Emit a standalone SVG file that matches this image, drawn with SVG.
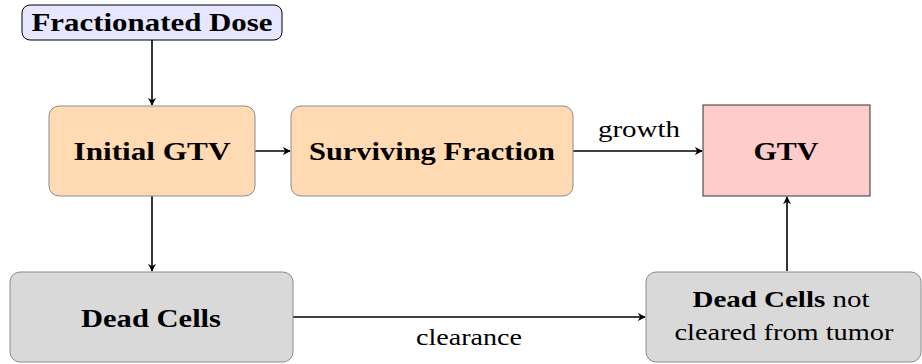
<svg xmlns="http://www.w3.org/2000/svg" width="922" height="364" viewBox="0 0 922 364">
<style>
.b{font-family:"Liberation Serif","DejaVu Serif",serif;font-weight:bold;font-size:25px;fill:#000;text-anchor:middle}
.n{font-family:"Liberation Serif","DejaVu Serif",serif;font-size:24px;fill:#000;text-anchor:middle}
.peach{fill:#ffdab3;stroke:#8c8c8c;stroke-width:1}
.gray{fill:#d9d9d9;stroke:#8c8c8c;stroke-width:1}
.c{stroke:#000;stroke-width:1.6;fill:none;marker-end:url(#ah)}
</style>
<defs>
<marker id="ah" viewBox="0 0 10 10" refX="9" refY="5" markerWidth="8" markerHeight="8" markerUnits="userSpaceOnUse" orient="auto">
<path d="M0,0 L10,5 L0,10 L3,5 Z" fill="#000"/>
</marker>
</defs>
<rect width="922" height="364" fill="#fff"/>
<g id="connectors">
<line class="c" x1="152" y1="40" x2="152" y2="105"/>
<line class="c" x1="255" y1="151" x2="290" y2="151"/>
<line class="c" x1="573" y1="151" x2="702" y2="151"/>
<line class="c" x1="152" y1="196" x2="152" y2="271"/>
<line class="c" x1="293" y1="317" x2="645" y2="317"/>
<line class="c" x1="787" y1="271" x2="787" y2="197"/>
<text class="n" x="639" y="137" textLength="82" lengthAdjust="spacingAndGlyphs">growth</text>
<text class="n" x="469" y="345" textLength="106" lengthAdjust="spacingAndGlyphs">clearance</text>
</g>
<g id="dose">
<rect x="22" y="5" width="260" height="35" rx="8" fill="#e6e6ff" stroke="#000" stroke-width="1"/>
<text class="b" x="152" y="31" textLength="241" lengthAdjust="spacingAndGlyphs">Fractionated Dose</text>
</g>
<g id="initial">
<rect class="peach" x="49" y="106" width="206" height="90" rx="10"/>
<text class="b" x="152" y="160" textLength="157" lengthAdjust="spacingAndGlyphs">Initial GTV</text>
</g>
<g id="surviving">
<rect class="peach" x="291" y="106" width="282" height="90" rx="10"/>
<text class="b" x="432" y="160" textLength="246" lengthAdjust="spacingAndGlyphs">Surviving Fraction</text>
</g>
<g id="gtv">
<rect x="703" y="105" width="167" height="91" fill="#ffcccc" stroke="#333" stroke-width="1"/>
<text class="b" x="786" y="160" textLength="65" lengthAdjust="spacingAndGlyphs">GTV</text>
</g>
<g id="dead">
<rect class="gray" x="10" y="272" width="283" height="90" rx="10"/>
<text class="b" x="151" y="327" textLength="140" lengthAdjust="spacingAndGlyphs">Dead Cells</text>
</g>
<g id="notcleared">
<rect class="gray" x="646" y="272" width="275" height="90" rx="10"/>
<text class="n" x="781" y="307" textLength="177" lengthAdjust="spacingAndGlyphs"><tspan font-weight="bold">Dead Cells</tspan> not</text>
<text class="n" x="784" y="340" textLength="219" lengthAdjust="spacingAndGlyphs">cleared from tumor</text>
</g>
</svg>
